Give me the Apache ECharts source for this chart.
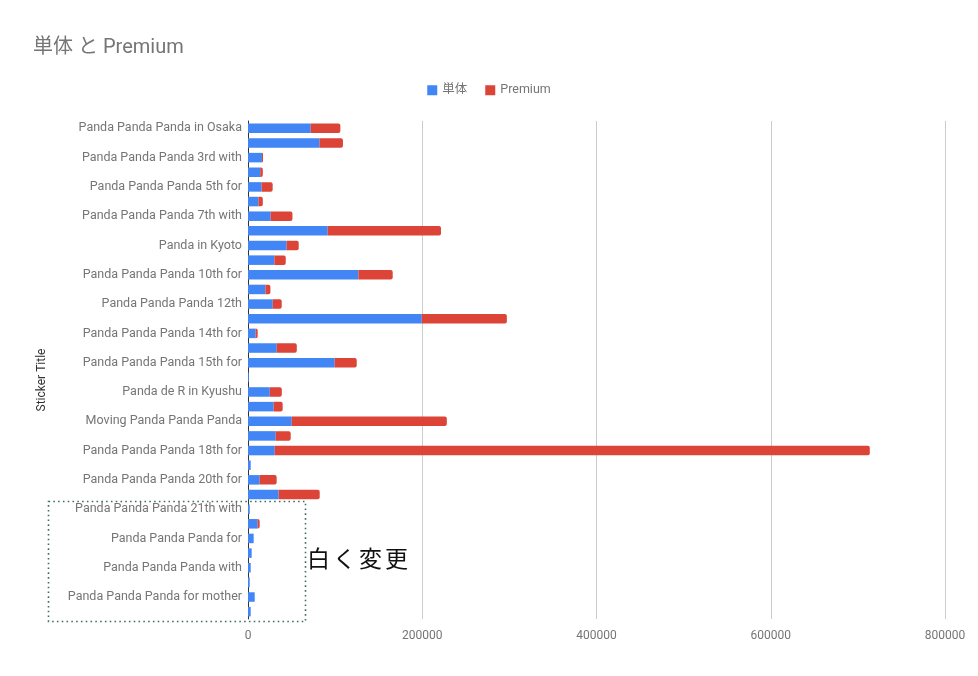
<!DOCTYPE html>
<html>
<head>
<meta charset="utf-8">
<script src="https://cdn.jsdelivr.net/npm/echarts@6/dist/echarts.min.js"></script>
<style>
  html, body { margin: 0; padding: 0; background: #fff; }
  #chart { width: 978px; height: 676px; }
</style>
</head>
<body>
<div id="chart"></div>
<script>
// sticker titles, top to bottom (only every other one is labelled in the source)
const titles = [
    'Panda Panda Panda in Osaka', '',
    'Panda Panda Panda 3rd with', '',
    'Panda Panda Panda 5th for', '',
    'Panda Panda Panda 7th with', '',
    'Panda in Kyoto', '',
    'Panda Panda Panda 10th for', '',
    'Panda Panda Panda 12th', '',
    'Panda Panda Panda 14th for', '',
    'Panda Panda Panda 15th for', '',
    'Panda de R in Kyushu', '',
    'Moving Panda Panda Panda', '',
    'Panda Panda Panda 18th for', '',
    'Panda Panda Panda 20th for', '',
    'Panda Panda Panda 21th with', '',
    'Panda Panda Panda for', '',
    'Panda Panda Panda with', '',
    'Panda Panda Panda for mother', ''
];

const single = [
    72000, 82000, 16000, 14000, 15700, 12000, 26000, 91500, 44400, 30300,
    126700, 20000, 28400, 199500, 8800, 33000, 99500, 1000, 25000, 29500,
    50200, 31800, 30700, 3100, 13400, 35200, 2000, 11100, 6500, 4200,
    3100, 2000, 7700, 3100
];

const premium = [
    34000, 27000, 1200, 3000, 12600, 5000, 25000, 130000, 13800, 13000,
    39400, 5700, 10300, 97600, 2300, 23000, 25300, 0, 13800, 10300,
    178000, 17200, 683000, 0, 19500, 47100, 0, 2300, 0, 0,
    0, 0, 0, 0
];

const xTicks = [0, 200000, 400000, 600000, 800000];

const noteChars = ['白', 'く', '変', '更'];

let chart = echarts.init(document.getElementById('chart'));

let extraGraphics = [
    {
        type: 'text',
        x: 42,
        y: 380,
        rotation: Math.PI / 2,
        style: {
            text: 'Sticker Title',
            fill: '#333',
            font: '12px Roboto',
            align: 'center',
            verticalAlign: 'middle'
        }
    },
    {
        type: 'rect',
        shape: { x: 48.5, y: 501.5, width: 257, height: 120 },
        style: { fill: 'none', stroke: '#3f6f62', lineWidth: 1.6, lineDash: [1.6, 3.2] },
        z: 100
    }
];
noteChars.forEach((ch, i) => {
    extraGraphics.push({
        type: 'text',
        left: 307 + i * 26,
        top: 547,
        style: {
            text: ch,
            fill: '#111',
            font: '400 23px "Noto Sans CJK JP"'
        },
        z: 100
    });
});

let options = {
    animation: false,
    color: ['#4285f4', '#db4437'],
    title: {
        text: '単体 と Premium',
        left: 28,
        top: 33,
        textStyle: {
            color: '#757575',
            fontSize: 20,
            fontWeight: 'normal',
            fontFamily: 'Roboto, "Noto Sans CJK JP"'
        }
    },
    legend: {
        top: 79,
        left: 'center',
        icon: 'rect',
        itemWidth: 10,
        itemHeight: 10,
        itemGap: 18,
        textStyle: {
            color: '#757575',
            fontSize: 12.5,
            fontFamily: 'Roboto, "Noto Sans CJK JP"'
        },
        data: ['単体', 'Premium']
    },
    grid: {
        left: 248,
        right: 33,
        top: 121,
        bottom: 57,
        containLabel: false
    },
    xAxis: {
        type: 'value',
        min: xTicks[0],
        max: xTicks[xTicks.length - 1],
        interval: xTicks[1] - xTicks[0],
        axisLine: { show: false },
        axisTick: { show: false },
        splitLine: { lineStyle: { color: '#cccccc', width: 1 } },
        axisLabel: {
            color: '#757575',
            fontSize: 12,
            margin: 11,
            fontFamily: 'Roboto',
            formatter: v => String(v)
        }
    },
    yAxis: {
        type: 'category',
        inverse: true,
        data: titles,
        axisLine: { show: true, lineStyle: { color: '#333', width: 1 } },
        axisTick: { show: false },
        axisLabel: {
            interval: 0,
            color: '#757575',
            fontSize: 12.5,
            margin: 6,
            padding: [2, 0, 0, 0],
            fontFamily: 'Roboto'
        }
    },
    series: [
        {
            name: '単体',
            type: 'bar',
            stack: 'total',
            barWidth: '65%',
            data: single
        },
        {
            name: 'Premium',
            type: 'bar',
            stack: 'total',
            barWidth: '65%',
            itemStyle: { borderRadius: [0, 2, 2, 0] },
            data: premium
        }
    ],
    graphic: extraGraphics
};

chart.setOption(options);
</script>
</body>
</html>
